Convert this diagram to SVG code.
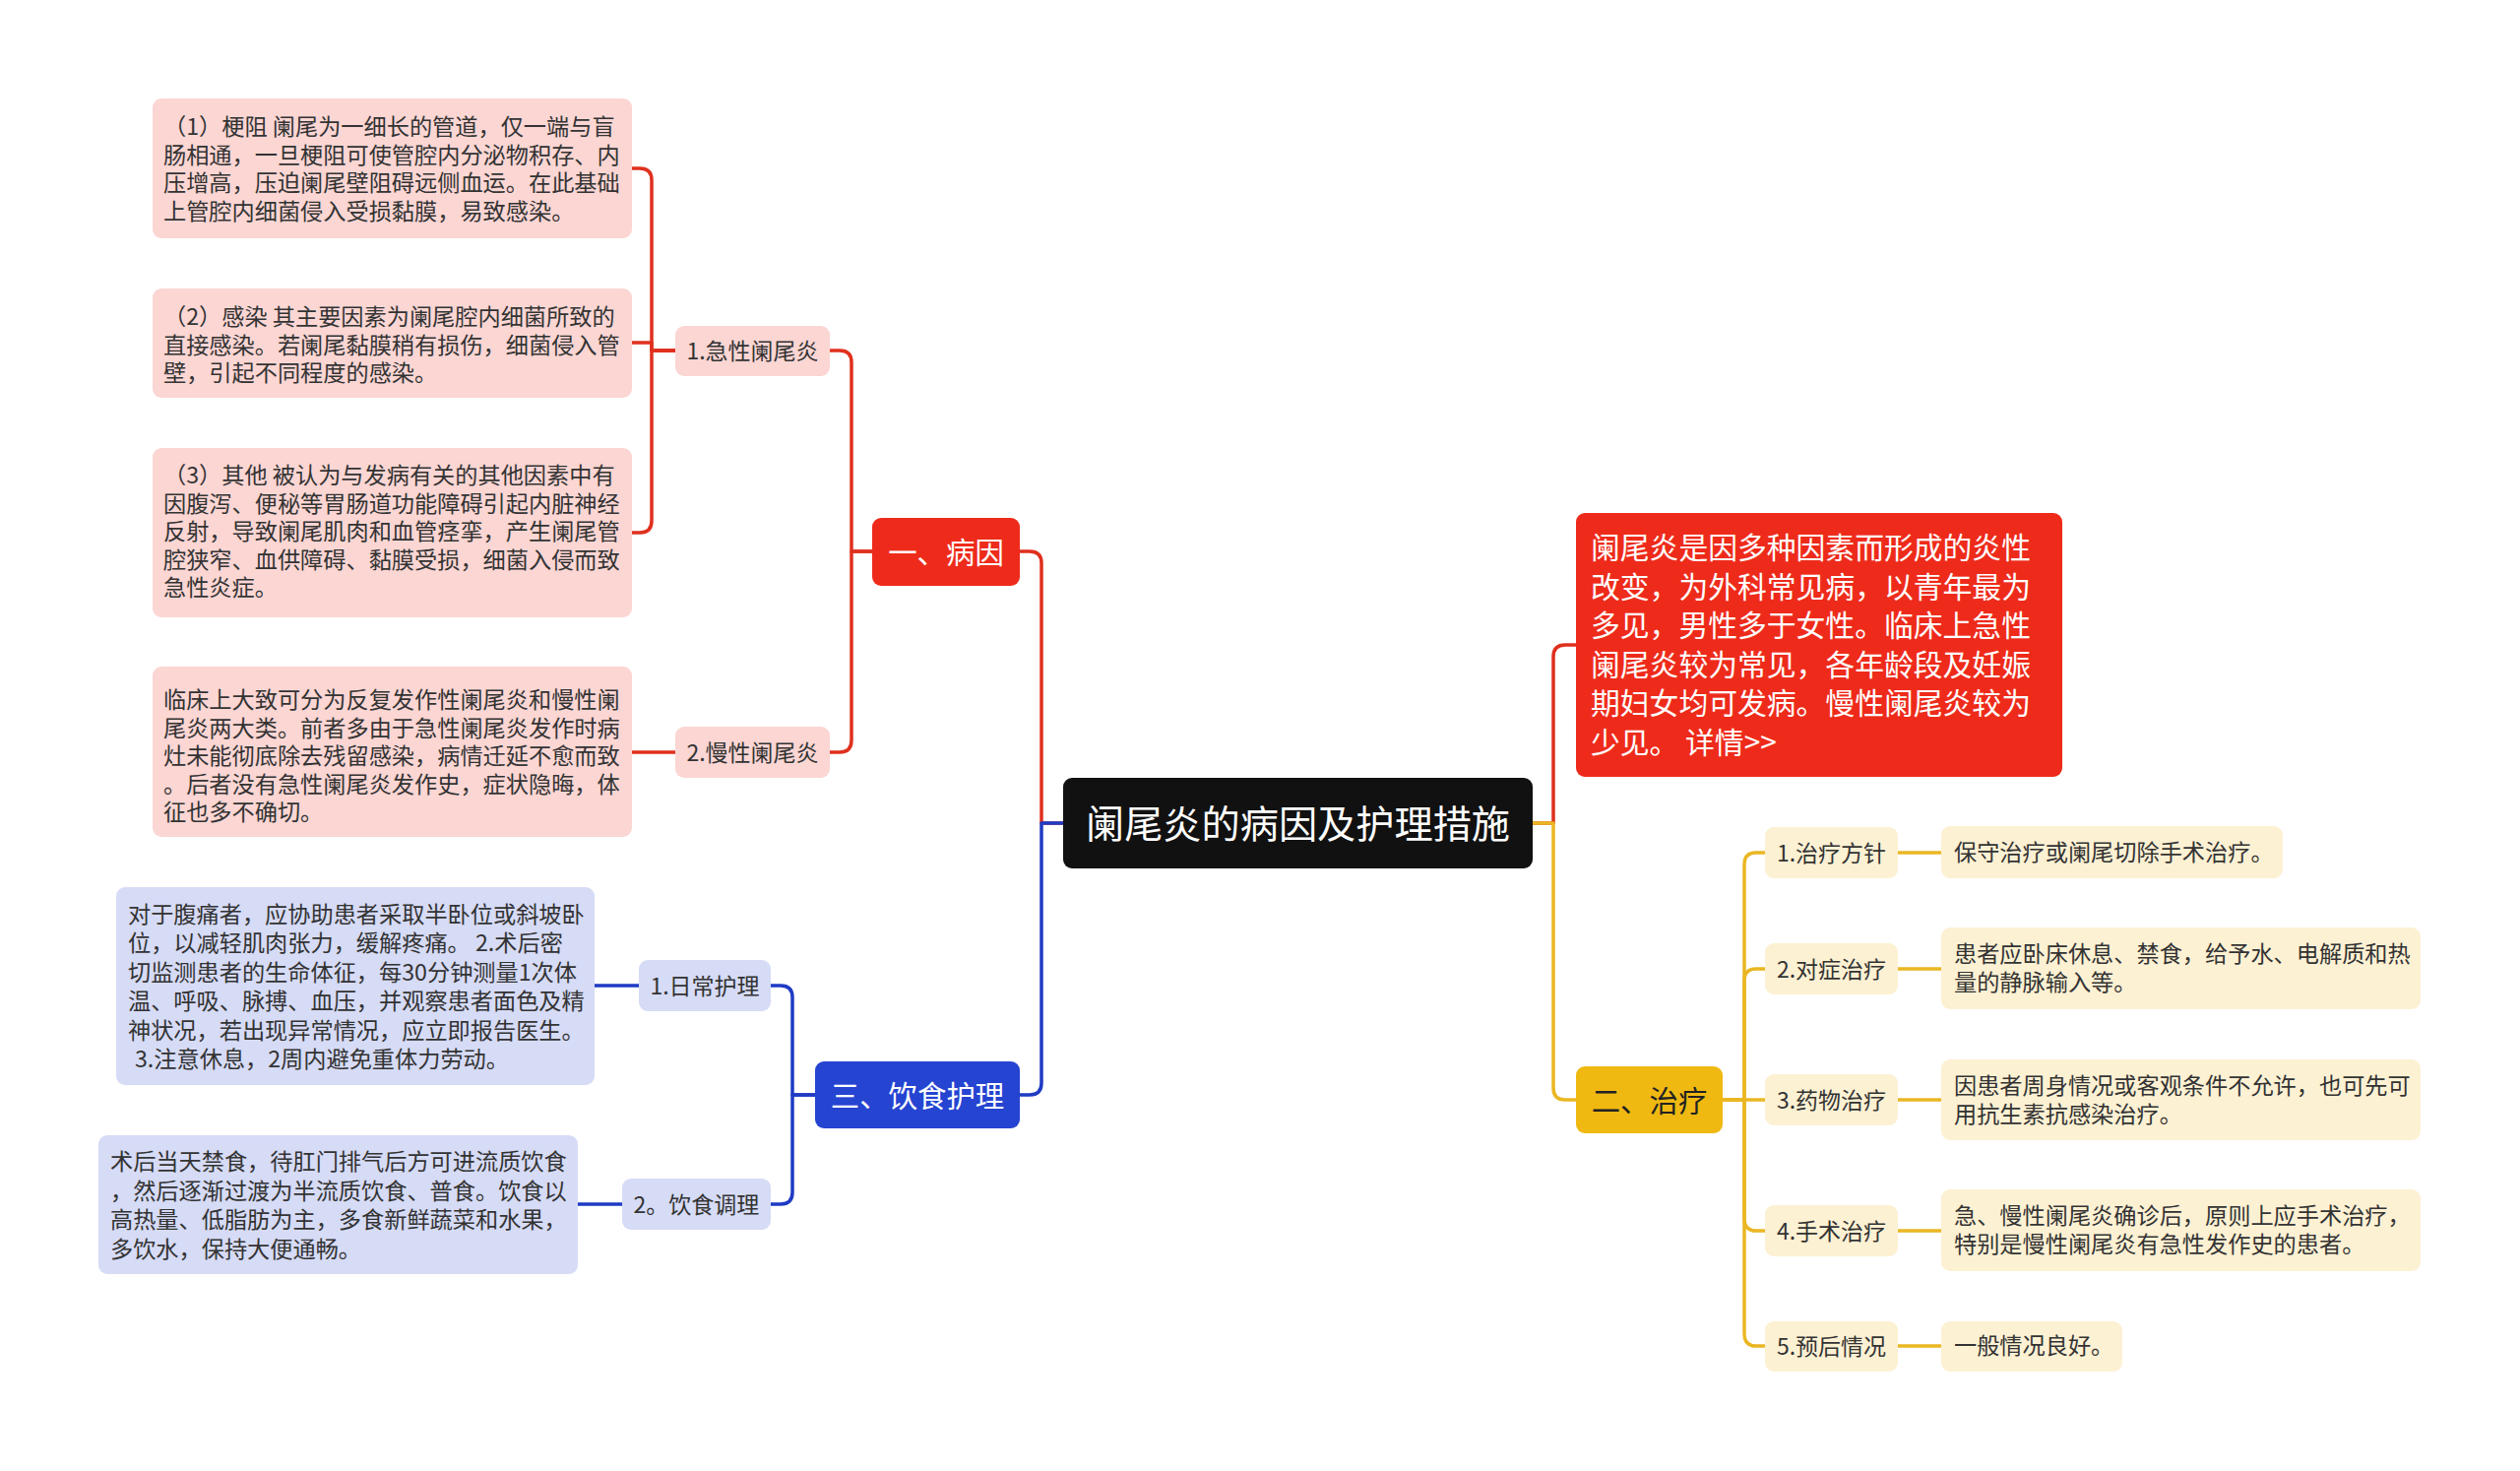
<svg xmlns="http://www.w3.org/2000/svg" width="2560" height="1494" viewBox="0 0 2560 1494">
<style>
text{font-family:"Noto Sans CJK SC","Noto Sans",sans-serif;dominant-baseline:central}
.c{fill:none;stroke-width:3.5;stroke-linejoin:round;stroke-linecap:round}
.cr{stroke:#E0301E}.cb{stroke:#1F3BC4}.cy{stroke:#EAB723}
.leaf{font-size:23.2px;fill:#333}
.l2{font-size:23px;fill:#333;text-anchor:middle}
.top{font-size:29.4px;text-anchor:middle}
.pink{fill:#FBD6D3}.lav{fill:#D6DBF6}.cream{fill:#FDF1D3}
</style>
<rect width="2560" height="1494" fill="#FFFFFF"/>
<g id="connectors">
<path class="c cr" d="M1080,836 H1058 V572 Q1058,560 1046,560 H1036"/>
<path class="c cb" d="M1080,836 H1058 V1100 Q1058,1112 1046,1112 H1036"/>
<path class="c cr" d="M1557,836 H1578 V667 Q1578,655 1590,655 H1601"/>
<path class="c cy" d="M1557,836 H1578 V1105 Q1578,1117 1590,1117 H1601"/>
<path class="c cr" d="M886,560 H865 V368 Q865,356 853,356 H843"/>
<path class="c cr" d="M886,560 H865 V752 Q865,764 853,764 H843"/>
<path class="c cr" d="M686,356 H662 V183 Q662,171 650,171 H642"/>
<path class="c cr" d="M686,356 H662 V348 H642"/>
<path class="c cr" d="M686,356 H662 V529 Q662,541 650,541 H642"/>
<path class="c cr" d="M686,764 H642"/>
<path class="c cb" d="M828,1112 H805 V1013 Q805,1001 793,1001 H783"/>
<path class="c cb" d="M828,1112 H805 V1211 Q805,1223 793,1223 H783"/>
<path class="c cb" d="M649,1001 H604"/>
<path class="c cb" d="M632,1223 H587"/>
<path class="c cy" d="M1750,1117 H1772 V878 Q1772,866 1784,866 H1793"/>
<path class="c cy" d="M1750,1117 H1772 V996 Q1772,984 1784,984 H1793"/>
<path class="c cy" d="M1750,1117 H1793"/>
<path class="c cy" d="M1750,1117 H1772 V1238 Q1772,1250 1784,1250 H1793"/>
<path class="c cy" d="M1750,1117 H1772 V1355 Q1772,1367 1784,1367 H1793"/>
<path class="c cy" d="M1928,866 H1972"/>
<path class="c cy" d="M1928,984 H1972"/>
<path class="c cy" d="M1928,1117 H1972"/>
<path class="c cy" d="M1928,1250 H1972"/>
<path class="c cy" d="M1928,1367 H1972"/>
</g>
<g id="root">
<rect x="1080" y="790" width="477" height="92" rx="9" fill="#111111"/>
<text x="1318.5" y="834" font-size="39.2" fill="#FFFFFF" text-anchor="middle">阑尾炎的病因及护理措施</text>
</g>
<g id="n-bingyin">
<rect x="886" y="526" width="150" height="69" rx="9" fill="#EE2B1B"/>
<text class="top" x="961" y="558.5" fill="#FFFFFF">一、病因</text>
</g>
<g id="n-yinshi">
<rect x="828" y="1078" width="208" height="68" rx="9" fill="#2544D1"/>
<text class="top" x="932" y="1110.5" fill="#FFFFFF">三、饮食护理</text>
</g>
<g id="n-intro">
<rect x="1601" y="521" width="494" height="268" rx="9" fill="#EE2B1B"/>
<text x="1616" font-size="29.8" fill="#FFFFFF">
<tspan x="1616" y="553.5">阑尾炎是因多种因素而形成的炎性</tspan>
<tspan x="1616" y="593.5">改变，为外科常见病，以青年最为</tspan>
<tspan x="1616" y="632.5">多见，男性多于女性。临床上急性</tspan>
<tspan x="1616" y="672.5">阑尾炎较为常见，各年龄段及妊娠</tspan>
<tspan x="1616" y="711.5">期妇女均可发病。慢性阑尾炎较为</tspan>
<tspan x="1616" y="751.5">少见。 详情&gt;&gt;</tspan>
</text>
</g>
<g id="n-zhiliao">
<rect x="1601" y="1083" width="149" height="68" rx="9" fill="#F0B912"/>
<text class="top" x="1675.5" y="1115.5" fill="#222222">二、治疗</text>
</g>
<g id="n-jixing">
<rect class="pink" x="686" y="331" width="157" height="51" rx="9"/>
<text class="l2" x="764.5" y="354.5">1.急性阑尾炎</text>
</g>
<g id="n-manxing">
<rect class="pink" x="686" y="738" width="157" height="52" rx="9"/>
<text class="l2" x="764.5" y="762.5">2.慢性阑尾炎</text>
</g>
<g id="n-gengzu">
<rect class="pink" x="155" y="100" width="487" height="142" rx="9"/>
<text class="leaf">
<tspan x="166" y="126.5">（1）梗阻 阑尾为一细长的管道，仅一端与盲</tspan>
<tspan x="166" y="155.5">肠相通，一旦梗阻可使管腔内分泌物积存、内</tspan>
<tspan x="166" y="184">压增高，压迫阑尾壁阻碍远侧血运。在此基础</tspan>
<tspan x="166" y="212.5">上管腔内细菌侵入受损黏膜，易致感染。</tspan>
</text>
</g>
<g id="n-ganran">
<rect class="pink" x="155" y="293" width="487" height="111" rx="9"/>
<text class="leaf">
<tspan x="166" y="319.5">（2）感染 其主要因素为阑尾腔内细菌所致的</tspan>
<tspan x="166" y="348.5">直接感染。若阑尾黏膜稍有损伤，细菌侵入管</tspan>
<tspan x="166" y="376.5">壁，引起不同程度的感染。</tspan>
</text>
</g>
<g id="n-qita">
<rect class="pink" x="155" y="455" width="487" height="172" rx="9"/>
<text class="leaf">
<tspan x="166" y="480.5">（3）其他 被认为与发病有关的其他因素中有</tspan>
<tspan x="166" y="509.5">因腹泻、便秘等胃肠道功能障碍引起内脏神经</tspan>
<tspan x="166" y="537.5">反射，导致阑尾肌肉和血管痉挛，产生阑尾管</tspan>
<tspan x="166" y="566.5">腔狭窄、血供障碍、黏膜受损，细菌入侵而致</tspan>
<tspan x="166" y="594.5">急性炎症。</tspan>
</text>
</g>
<g id="n-manxing-leaf">
<rect class="pink" x="155" y="677" width="487" height="173" rx="9"/>
<text class="leaf">
<tspan x="166" y="708.5">临床上大致可分为反复发作性阑尾炎和慢性阑</tspan>
<tspan x="166" y="737.5">尾炎两大类。前者多由于急性阑尾炎发作时病</tspan>
<tspan x="166" y="765.5">灶未能彻底除去残留感染，病情迁延不愈而致</tspan>
<tspan x="166" y="794.5">。后者没有急性阑尾炎发作史，症状隐晦，体</tspan>
<tspan x="166" y="822.5">征也多不确切。</tspan>
</text>
</g>
<g id="n-richang">
<rect class="lav" x="649" y="975" width="134" height="52" rx="9"/>
<text class="l2" x="716" y="999.5">1.日常护理</text>
</g>
<g id="n-tiaoli">
<rect class="lav" x="632" y="1197" width="151" height="52" rx="9"/>
<text class="l2" x="707.5" y="1221.5">2。饮食调理</text>
</g>
<g id="n-richang-leaf">
<rect class="lav" x="118" y="901" width="486" height="201" rx="9"/>
<text class="leaf">
<tspan x="130" y="926.5">对于腹痛者，应协助患者采取半卧位或斜坡卧</tspan>
<tspan x="130" y="956">位，以减轻肌肉张力，缓解疼痛。 2.术后密</tspan>
<tspan x="130" y="985.5">切监测患者的生命体征，每30分钟测量1次体</tspan>
<tspan x="130" y="1015">温、呼吸、脉搏、血压，并观察患者面色及精</tspan>
<tspan x="130" y="1044.5">神状况，若出现异常情况，应立即报告医生。</tspan>
<tspan x="137" y="1074">3.注意休息，2周内避免重体力劳动。</tspan>
</text>
</g>
<g id="n-tiaoli-leaf">
<rect class="lav" x="100" y="1153" width="487" height="141" rx="9"/>
<text class="leaf">
<tspan x="112" y="1177.5">术后当天禁食，待肛门排气后方可进流质饮食</tspan>
<tspan x="112" y="1207.5">，然后逐渐过渡为半流质饮食、普食。饮食以</tspan>
<tspan x="112" y="1236.5">高热量、低脂肪为主，多食新鲜蔬菜和水果，</tspan>
<tspan x="112" y="1266.5">多饮水，保持大便通畅。</tspan>
</text>
</g>
<g id="n-fangzhen">
<rect class="cream" x="1793" y="840" width="135" height="52" rx="9"/>
<text class="l2" x="1860.5" y="864.5">1.治疗方针</text>
</g>
<g id="n-duizheng">
<rect class="cream" x="1793" y="958" width="135" height="52" rx="9"/>
<text class="l2" x="1860.5" y="982.5">2.对症治疗</text>
</g>
<g id="n-yaowu">
<rect class="cream" x="1793" y="1091" width="135" height="52" rx="9"/>
<text class="l2" x="1860.5" y="1115.5">3.药物治疗</text>
</g>
<g id="n-shoushu">
<rect class="cream" x="1793" y="1224" width="135" height="52" rx="9"/>
<text class="l2" x="1860.5" y="1248.5">4.手术治疗</text>
</g>
<g id="n-yuhou">
<rect class="cream" x="1793" y="1342" width="135" height="51" rx="9"/>
<text class="l2" x="1860.5" y="1365.5">5.预后情况</text>
</g>
<g id="n-fangzhen-leaf">
<rect class="cream" x="1972" y="839" width="347" height="53" rx="9"/>
<text class="leaf" x="1985" y="863.5">保守治疗或阑尾切除手术治疗。</text>
</g>
<g id="n-duizheng-leaf">
<rect class="cream" x="1972" y="942" width="487" height="83" rx="9"/>
<text class="leaf">
<tspan x="1985" y="967">患者应卧床休息、禁食，给予水、电解质和热</tspan>
<tspan x="1985" y="995.5">量的静脉输入等。</tspan>
</text>
</g>
<g id="n-yaowu-leaf">
<rect class="cream" x="1972" y="1076" width="487" height="82" rx="9"/>
<text class="leaf">
<tspan x="1985" y="1100.5">因患者周身情况或客观条件不允许，也可先可</tspan>
<tspan x="1985" y="1129.5">用抗生素抗感染治疗。</tspan>
</text>
</g>
<g id="n-shoushu-leaf">
<rect class="cream" x="1972" y="1208" width="487" height="83" rx="9"/>
<text class="leaf">
<tspan x="1985" y="1232.5">急、慢性阑尾炎确诊后，原则上应手术治疗，</tspan>
<tspan x="1985" y="1261.5">特别是慢性阑尾炎有急性发作史的患者。</tspan>
</text>
</g>
<g id="n-yuhou-leaf">
<rect class="cream" x="1972" y="1342" width="184" height="51" rx="9"/>
<text class="leaf" x="1985" y="1364.5">一般情况良好。</text>
</g>
</svg>
